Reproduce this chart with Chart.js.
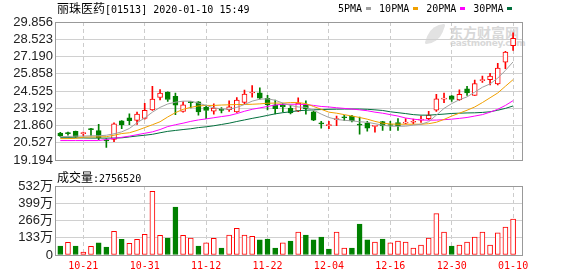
<!DOCTYPE html>
<html>
<head>
<meta charset="utf-8">
<script src="https://cdn.jsdelivr.net/npm/chart.js"></script>
<style>
html, body { margin: 0; padding: 0; background: #fff; }
#wrap { position: relative; width: 578px; height: 276px; overflow: hidden; }
canvas { position: absolute; left: 0; }
.t { position: absolute; white-space: nowrap; line-height: 12px; color: #000; }
.cjk { font-size: 12px; font-family: 'Noto Sans CJK SC', sans-serif; }
.mono { font-size: 10px; font-family: 'DejaVu Sans Mono', monospace; }
#leyenda { position: absolute; left: 338px; top: 3px; display: flex; align-items: center; }
#leyenda .sq { display: inline-block; width: 5px; height: 3px; margin: 0 8px 0 4px; }
.wm { position: absolute; color: #d8d8d8; font-weight: bold; white-space: nowrap; }
</style>
</head>
<body>
<div id="wrap">
  <!-- marca de agua, queda detras de los canvas -->
  <div class="wm" style="left:428px;top:24px;width:14px;height:20px;border-radius:12px 2px 12px 2px;background:#e2e2e2;transform:skewX(-20deg);"></div>
  <div class="wm" style="left:449px;top:22px;font:bold 14px 'Noto Sans CJK SC';">东方财富网</div>
  <div class="wm" style="left:450px;top:38px;font:bold 9px 'DejaVu Sans';letter-spacing:-0.3px;">eastmoney.com</div>

  <canvas id="kline" width="578" height="170" style="top:0;width:578px;height:170px"></canvas>
  <canvas id="vol" width="578" height="106" style="top:170px;width:578px;height:106px"></canvas>

  <div class="t" style="left:57px;top:2px"><span class="cjk">丽珠医药</span><span class="mono">[01513] 2020-01-10 15:49</span></div>
  <div id="leyenda" class="mono"></div>
  <div class="t" style="left:57px;top:171px"><span class="cjk">成交量</span><span class="mono">:2756520</span></div>
</div>

<script>
// dias de la grilla (MM-DD)
const dates = ['10-16','10-17','10-18','10-21','10-22','10-23','10-24','10-25','10-28','10-29',
  '10-30','10-31','11-01','11-04','11-05','11-06','11-07','11-08','11-11','11-12',
  '11-13','11-14','11-15','11-18','11-19','11-20','11-21','11-22','11-25','11-26',
  '11-27','11-28','11-29','12-02','12-03','12-04','12-05','12-06','12-09','12-10',
  '12-11','12-12','12-13','12-16','12-17','12-18','12-19','12-20','12-23','12-24',
  '12-27','12-30','12-31','01-02','01-03','01-06','01-07','01-08','01-09','01-10'];
const xTickLabels = ['10-21','10-31','11-12','11-22','12-04','12-16','12-30','01-10'];

const openP = [21.29,21.26,21.42,21.24,21.57,21.47,20.71,20.80,22.23,22.47,
  22.27,22.41,23.08,24.03,24.45,24.13,22.95,23.67,23.70,23.27,
  22.97,23.06,23.10,22.92,23.66,24.38,24.40,23.97,23.47,23.46,
  23.20,22.97,23.48,22.92,22.03,21.86,22.33,22.50,22.60,21.93,
  22.03,21.80,22.17,21.90,22.10,22.06,22.12,22.28,22.40,23.05,
  23.90,24.16,23.86,24.70,24.20,25.33,25.41,25.07,26.75,28.03];
const highP = [21.35,21.36,21.45,21.36,21.66,21.96,20.87,22.08,22.25,22.77,
  22.90,23.59,24.90,24.65,24.47,24.38,23.71,23.70,23.72,23.45,
  23.55,23.25,23.78,24.03,24.60,24.96,24.77,24.20,23.84,23.58,
  23.45,24.00,23.78,23.00,22.20,22.20,22.60,22.65,22.65,22.52,
  22.20,21.86,22.20,22.20,22.40,22.40,22.36,22.60,22.97,24.28,
  24.38,24.18,24.62,24.90,25.38,25.69,25.90,26.67,27.60,29.02];
const lowP = [21.00,21.12,20.95,21.07,21.07,20.77,20.18,20.63,21.62,21.93,
  21.96,22.35,23.03,23.84,23.72,22.70,22.90,23.22,22.66,22.40,
  22.75,22.85,22.95,22.88,23.50,24.05,23.90,23.07,22.77,22.92,
  22.77,22.93,22.75,22.25,21.66,21.63,21.86,22.24,22.15,21.20,
  21.44,21.36,21.50,21.50,21.50,21.99,22.00,22.10,22.33,22.95,
  23.64,23.72,23.80,24.20,24.20,25.20,25.00,25.00,26.25,27.66];
const closeP = [21.07,21.24,21.00,21.26,21.55,20.93,20.68,22.00,21.92,22.24,
  22.76,23.05,23.91,24.38,23.88,23.44,23.47,23.63,22.92,23.03,
  23.21,23.04,23.32,23.84,24.30,24.43,23.98,23.47,23.17,23.30,
  22.85,23.60,23.17,22.28,22.00,21.90,22.37,22.47,22.23,21.90,
  21.66,21.85,21.83,21.87,21.83,22.10,22.16,22.33,22.67,23.92,
  23.95,23.88,24.28,24.38,25.10,25.38,25.69,26.30,27.54,28.60];

// medias moviles
const ma5 = [21.01,21.02,21.05,21.05,21.08,21.08,21.12,21.23,21.38,21.64,
  22.08,22.45,22.90,23.27,23.53,23.67,23.75,23.75,23.60,23.42,
  23.23,23.16,23.12,23.27,23.49,23.75,23.90,23.93,23.82,23.60,
  23.42,23.30,23.27,23.05,22.75,22.49,22.34,22.27,22.23,22.16,
  22.12,22.01,21.90,21.82,21.81,21.82,21.90,21.97,22.16,22.67,
  23.19,23.56,23.86,24.08,24.45,24.82,25.08,25.53,26.12,26.78];
const ma10 = [20.86,20.86,20.88,20.97,20.99,20.99,21.01,21.12,21.25,21.31,
  21.49,21.71,21.93,22.16,22.53,22.86,23.12,23.27,23.38,23.42,
  23.42,23.45,23.47,23.49,23.49,23.51,23.54,23.59,23.60,23.60,
  23.64,23.64,23.56,23.34,23.12,22.90,22.82,22.71,22.60,22.49,
  22.36,22.19,22.05,21.99,21.97,21.97,21.97,21.97,22.01,22.12,
  22.34,22.60,22.82,23.05,23.30,23.64,24.01,24.38,24.90,25.41];
const ma20 = [20.71,20.71,20.71,20.71,20.71,20.71,20.79,20.88,20.96,21.05,
  21.16,21.27,21.38,21.56,21.79,21.93,22.05,22.19,22.30,22.38,
  22.47,22.56,22.64,22.79,22.97,23.12,23.23,23.34,23.45,23.51,
  23.51,23.51,23.49,23.42,23.34,23.30,23.24,23.19,23.14,23.08,
  23.01,22.90,22.82,22.71,22.60,22.45,22.36,22.30,22.28,22.29,
  22.32,22.36,22.42,22.49,22.60,22.71,22.90,23.12,23.42,23.79];
const ma30 = [20.93,20.93,20.92,20.91,20.90,20.90,20.90,20.90,20.92,20.99,
  21.06,21.12,21.19,21.31,21.42,21.49,21.56,21.62,21.71,21.77,
  21.85,21.95,22.05,22.18,22.30,22.42,22.53,22.65,22.77,22.86,
  22.93,23.01,23.05,23.08,23.10,23.12,23.13,23.14,23.14,23.14,
  23.12,23.08,23.03,22.93,22.86,22.79,22.71,22.67,22.67,22.71,
  22.75,22.80,22.82,22.84,22.85,22.88,22.93,23.05,23.19,23.38];

// volumen en 万 (10k acciones), 1 = barra roja
const volume = [69,98,69,23,67,93,62,182,121,90,
  121,159,491,152,131,370,152,131,69,93,
  128,54,154,206,154,144,116,123,54,93,
  108,177,154,116,139,46,177,54,54,239,
  116,100,123,93,108,100,54,77,131,319,
  177,69,77,100,139,177,77,170,216,276];
const volUp = [0,1,0,1,1,0,0,1,0,1,
  1,1,1,1,0,0,1,1,0,1,
  1,0,1,1,1,1,0,0,0,1,
  0,1,0,0,0,0,1,1,0,0,
  0,1,0,1,1,1,1,1,1,1,
  1,0,1,1,1,1,1,1,1,1];

const priceTicks = [19.194, 20.527, 21.860, 23.192, 24.525, 25.858, 27.190, 28.523, 29.856];
const volTicks = [0, 133, 266, 399, 532];

const maNames = ['5PMA', '10PMA', '20PMA', '30PMA'];
const maColors = ['#a0a0a0', '#f0a000', '#ff00ff', '#006f3c'];
const RED = '#ff0000';
const GREEN = '#008000';

const idx = dates.map((d, i) => i);
const tickIdx = xTickLabels.map(l => dates.indexOf(l));
const X_MIN = -0.69, X_MAX = 60.16;

// leyenda de las medias
const ley = document.getElementById('leyenda');
maNames.forEach(function (n, k) {
  const s = document.createElement('span');
  s.textContent = n;
  const q = document.createElement('span');
  q.className = 'sq';
  q.style.background = maColors[k];
  ley.appendChild(s);
  ley.appendChild(q);
});

// marco gris del area
const marco = {
  id: 'marco',
  beforeDatasetsDraw(chart) {
    const a = chart.chartArea;
    const ctx = chart.ctx;
    ctx.save();
    ctx.strokeStyle = '#999';
    ctx.lineWidth = 1;
    ctx.strokeRect(Math.round(a.left) + 0.5, Math.round(a.top) + 0.5,
      Math.round(a.right - a.left), Math.round(a.bottom - a.top));
    ctx.restore();
  }
};

const axisFont = { family: "'Liberation Sans', 'Noto Sans CJK SC', sans-serif", size: 13 };

function xAxis(showLabels) {
  return {
    type: 'linear', min: X_MIN, max: X_MAX, offset: false,
    afterBuildTicks: s => { s.ticks = tickIdx.map(v => ({ value: v })); },
    afterFit: s => { s.height = showLabels ? 21 : 0; },
    ticks: {
      display: showLabels, autoSkip: false, maxRotation: 0, padding: 5,
      color: RED, font: { family: "'DejaVu Sans Mono', monospace", size: 10 },
      callback: v => dates[v]
    },
    grid: { color: '#ccc', drawTicks: false, offset: false },
    border: { display: false, dash: [4, 3] }
  };
}

function yAxis(ticksArr, label) {
  return {
    min: ticksArr[0], max: ticksArr[ticksArr.length - 1],
    afterBuildTicks: s => { s.ticks = ticksArr.map(v => ({ value: v })); },
    afterFit: s => { s.width = 55; },
    ticks: { color: '#222', font: axisFont, padding: 2, autoSkip: false, callback: label },
    grid: { color: '#d0d0d0', drawTicks: false },
    border: { display: false }
  };
}

const up = idx.map(i => closeP[i] >= openP[i]);
const candleColor = idx.map(i => up[i] ? RED : GREEN);

const lineSets = [ma5, ma10, ma20, ma30].map((arr, k) => ({
  type: 'line',
  data: idx.map(i => ({ x: i, y: arr[i] })),
  borderColor: maColors[k], borderWidth: 1, pointRadius: 0, tension: 0, order: 0
}));

new Chart(document.getElementById('kline'), {
  type: 'bar',
  data: {
    datasets: [
      ...lineSets,
      { // mecha inferior
        data: idx.map(i => ({ x: i, y: [lowP[i], Math.min(openP[i], closeP[i])] })),
        backgroundColor: candleColor, barThickness: 1, grouped: false, order: 2
      },
      { // mecha superior
        data: idx.map(i => ({ x: i, y: [Math.max(openP[i], closeP[i]), highP[i]] })),
        backgroundColor: candleColor, barThickness: 1, grouped: false, order: 2
      },
      { // cuerpo
        data: idx.map(i => ({ x: i, y: [openP[i], closeP[i]] })),
        backgroundColor: idx.map(i => up[i] ? '#fff' : GREEN),
        borderColor: candleColor, borderWidth: 1, borderSkipped: false,
        barThickness: 5, minBarLength: 1, grouped: false, order: 1
      }
    ]
  },
  options: {
    responsive: false, animation: false, events: [],
    layout: { padding: { top: 22, right: 56, bottom: 4, left: 0 } },
    plugins: { legend: { display: false }, tooltip: { enabled: false } },
    scales: {
      x: xAxis(false),
      y: yAxis(priceTicks, v => v.toFixed(3))
    }
  },
  plugins: [marco]
});

new Chart(document.getElementById('vol'), {
  type: 'bar',
  data: {
    datasets: [{
      data: idx.map(i => ({ x: i, y: volume[i] })),
      backgroundColor: idx.map(i => volUp[i] ? '#fff' : GREEN),
      borderColor: idx.map(i => volUp[i] ? RED : GREEN),
      borderWidth: 1, borderSkipped: false, barThickness: 5
    }]
  },
  options: {
    responsive: false, animation: false, events: [],
    layout: { padding: { top: 16, right: 56, bottom: 0, left: 0 } },
    plugins: { legend: { display: false }, tooltip: { enabled: false } },
    scales: {
      x: xAxis(true),
      y: yAxis(volTicks, v => v === 0 ? '0' : v + '万')
    }
  },
  plugins: [marco]
});
</script>
</body>
</html>
